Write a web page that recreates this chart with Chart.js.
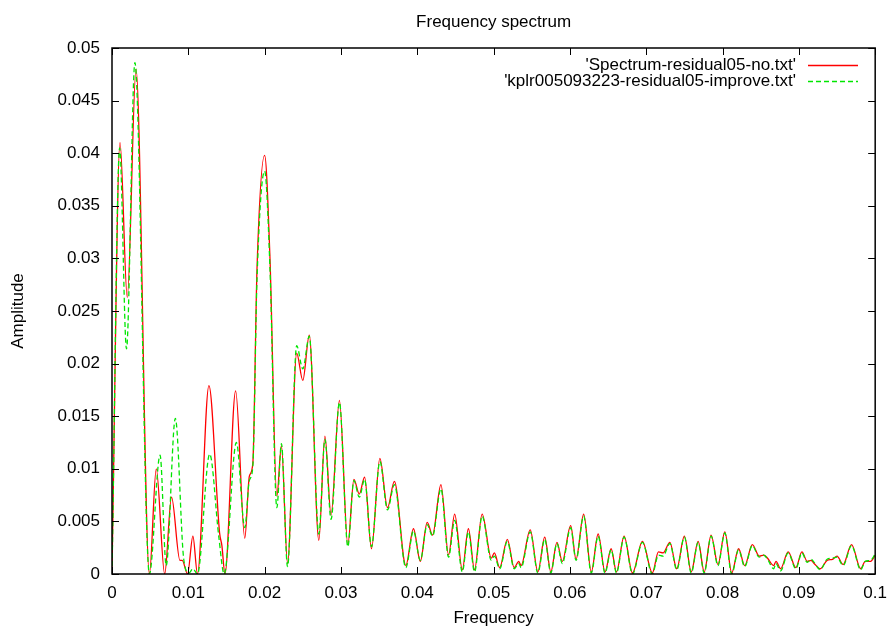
<!DOCTYPE html>
<html>
<head>
<meta charset="utf-8">
<title>Frequency spectrum</title>
<script src="https://cdn.jsdelivr.net/npm/chart.js@4.4.0/dist/chart.umd.min.js"></script>
<style>
  html, body { margin: 0; padding: 0; background: #fff; }
  #spectrum { display: block; }
</style>
</head>
<body>
<canvas id="spectrum" width="896" height="630"></canvas>
<script>
// 'Spectrum-residual05-no.txt' (extrema and shoulders of the curve)
const noFreq = [
    0.0000, 0.00105, 0.0020, 0.00315, 0.0049, 0.0058, 0.0069, 0.0078, 0.0089, 0.0092,
    0.0099, 0.0106, 0.0112, 0.0127, 0.0141, 0.0144, 0.0148, 0.0162, 0.0174, 0.0180,
    0.01845, 0.0190, 0.0200, 0.0207, 0.0216, 0.0222, 0.0230, 0.0242, 0.0250, 0.02585,
    0.0271, 0.0279, 0.0287, 0.0298, 0.0309, 0.0317, 0.0324, 0.0331, 0.0340, 0.0351,
    0.0361, 0.0370, 0.0385, 0.0395, 0.0404, 0.0413, 0.0420, 0.0431, 0.0441, 0.0449,
    0.0459, 0.0467, 0.0475, 0.0485, 0.0497, 0.0501, 0.0508, 0.0518, 0.0527, 0.0533,
    0.0536, 0.0548, 0.0558, 0.0567, 0.0575, 0.0583, 0.0590, 0.0601, 0.0608, 0.0618,
    0.0628, 0.0637, 0.0646, 0.0654, 0.0661, 0.0671, 0.0682, 0.0695, 0.0708, 0.0716,
    0.0722, 0.0731, 0.0740, 0.0750, 0.0759, 0.0768, 0.0776, 0.0785, 0.0794, 0.0803,
    0.0812, 0.0821, 0.0829, 0.0839, 0.0848, 0.0854, 0.0859, 0.0867, 0.0870, 0.0876,
    0.0886, 0.0896, 0.0904, 0.0911, 0.0916, 0.0920, 0.0928, 0.0937, 0.0944, 0.0950,
    0.0958, 0.0969, 0.0981, 0.0987, 0.0994, 0.1000
];
const noAmp = [
    0.0005, 0.0410, 0.0263, 0.0480, 0.0000, 0.0100, 0.0000, 0.0073, 0.0013, 0.0013,
    0.0000, 0.0036, 0.0000, 0.0179, 0.0039, 0.0027, 0.0000, 0.0174, 0.0034, 0.0093,
    0.0105, 0.0290, 0.0398, 0.0300, 0.0074, 0.0122, 0.0010, 0.0210, 0.0184, 0.0227,
    0.0032, 0.0131, 0.0056, 0.0165, 0.0028, 0.0090, 0.0076, 0.0092, 0.0024, 0.0110,
    0.0063, 0.0088, 0.0008, 0.0043, 0.0012, 0.0049, 0.0037, 0.0085, 0.0018, 0.0057,
    0.0004, 0.0043, 0.0004, 0.0057, 0.0015, 0.0020, 0.0006, 0.0033, 0.0006, 0.0012,
    0.0008, 0.0042, 0.0002, 0.0035, 0.0002, 0.0030, 0.0012, 0.0046, 0.0014, 0.0057,
    0.0002, 0.0038, 0.0002, 0.0024, 0.0002, 0.0036, 0.0001, 0.0031, 0.0001, 0.0021,
    0.0020, 0.0030, 0.0005, 0.0036, 0.0002, 0.0031, 0.0002, 0.0037, 0.0009, 0.0040,
    0.0001, 0.0024, 0.0008, 0.0028, 0.0017, 0.0018, 0.0015, 0.0008, 0.0012, 0.0005,
    0.0021, 0.0006, 0.0021, 0.0012, 0.0013, 0.0010, 0.0005, 0.0013, 0.0014, 0.0017,
    0.0009, 0.0028, 0.0005, 0.0012, 0.0012, 0.0018
];

// 'kplr005093223-residual05-improve.txt'
const improveFreq = [
    0.0000, 0.0010, 0.0019, 0.0030, 0.0049, 0.0063, 0.0071, 0.0083, 0.0094, 0.0101,
    0.0106, 0.0112, 0.0128, 0.0140, 0.0147, 0.0163, 0.0174, 0.0180, 0.01845, 0.0190,
    0.0200, 0.0207, 0.0216, 0.0222, 0.0230, 0.0242, 0.0250, 0.02585, 0.0271, 0.0279,
    0.0287, 0.0298, 0.0309, 0.0317, 0.0324, 0.0331, 0.0340, 0.0351, 0.0361, 0.0370,
    0.0385, 0.0395, 0.0404, 0.0413, 0.0420, 0.0431, 0.0441, 0.0449, 0.0459, 0.0467,
    0.0475, 0.0485, 0.0497, 0.0501, 0.0508, 0.0518, 0.0527, 0.0533, 0.0536, 0.0548,
    0.0558, 0.0567, 0.0575, 0.0583, 0.0590, 0.0601, 0.0608, 0.0618, 0.0628, 0.0637,
    0.0646, 0.0654, 0.0661, 0.0671, 0.0682, 0.0695, 0.0708, 0.0716, 0.0722, 0.0731,
    0.0740, 0.0750, 0.0759, 0.0768, 0.0776, 0.0785, 0.0794, 0.0803, 0.0812, 0.0821,
    0.0829, 0.0839, 0.0848, 0.0854, 0.0859, 0.0867, 0.0870, 0.0876, 0.0886, 0.0896,
    0.0904, 0.0911, 0.0916, 0.0920, 0.0928, 0.0937, 0.0944, 0.0950, 0.0958, 0.0969,
    0.0981, 0.0987, 0.0994, 0.1000
];
const improveAmp = [
    0.0000, 0.0405, 0.0214, 0.0486, 0.0000, 0.0113, 0.0008, 0.0148, 0.0014, 0.0001,
    0.0005, 0.0000, 0.0114, 0.0035, 0.0000, 0.0125, 0.0044, 0.0089, 0.0102, 0.0280,
    0.0383, 0.0290, 0.0063, 0.0124, 0.0007, 0.0217, 0.0195, 0.0226, 0.0038, 0.0128,
    0.0052, 0.0163, 0.0026, 0.0089, 0.0073, 0.0090, 0.0026, 0.0107, 0.0061, 0.0085,
    0.0006, 0.0041, 0.0013, 0.0047, 0.0036, 0.0081, 0.0016, 0.0051, 0.0002, 0.0040,
    0.0002, 0.0055, 0.0013, 0.0017, 0.0005, 0.0031, 0.0005, 0.0010, 0.0006, 0.0040,
    0.0001, 0.0033, 0.0001, 0.0029, 0.0010, 0.0044, 0.0013, 0.0055, 0.0001, 0.0036,
    0.0001, 0.0023, 0.0001, 0.0035, 0.0000, 0.0030, 0.0000, 0.0018, 0.0017, 0.0029,
    0.0004, 0.0035, 0.0001, 0.0030, 0.0001, 0.0036, 0.0008, 0.0039, 0.0000, 0.0023,
    0.0007, 0.0027, 0.0016, 0.0018, 0.0014, 0.0005, 0.0010, 0.0003, 0.0020, 0.0005,
    0.0020, 0.0011, 0.0014, 0.0011, 0.0004, 0.0014, 0.0015, 0.0016, 0.0008, 0.0027,
    0.0004, 0.0012, 0.0013, 0.0019
];

const seriesLabels = ["'Spectrum-residual05-no.txt'", "'kplr005093223-residual05-improve.txt'"];
const xTickLabels = ['0', '0.01', '0.02', '0.03', '0.04', '0.05', '0.06', '0.07', '0.08', '0.09', '0.1'];
const yTickLabels = ['0', '0.005', '0.01', '0.015', '0.02', '0.025', '0.03', '0.035', '0.04', '0.045', '0.05'];

const FONT = '"Liberation Sans", Arial, Helvetica, sans-serif';
const RED = '#ff0000';
const GREEN = '#00e600';
const DASH = [5, 3];

Chart.defaults.font.family = FONT;
Chart.defaults.font.size = 17;
Chart.defaults.color = '#000';

function toPoints(freq, amp) {
    return freq.map((f, i) => ({x: f, y: amp[i]}));
}

// key rows: label, colour, dash
const keyRows = [
    {text: seriesLabels[0], color: RED, dash: []},
    {text: seriesLabels[1], color: GREEN, dash: DASH}
];

// gnuplot look: box border, inward ticks on all four sides, title and key
const gnuFrame = {
    id: 'gnuFrame',
    afterDraw(chart) {
        const ctx = chart.ctx;
        const area = chart.chartArea;
        const xs = chart.scales.x;
        const ys = chart.scales.y;
        const tick = 7;

        ctx.save();
        ctx.strokeStyle = '#000';
        ctx.lineWidth = 1.5;
        ctx.strokeRect(area.left, area.top, area.right - area.left, area.bottom - area.top);

        ctx.lineWidth = 1;
        ctx.beginPath();
        xs.ticks.forEach(t => {
            let px = Math.round(xs.getPixelForValue(t.value)) + 0.5;
            ctx.moveTo(px, area.bottom);
            ctx.lineTo(px, area.bottom - tick);
            ctx.moveTo(px, area.top);
            ctx.lineTo(px, area.top + tick);
        });
        ys.ticks.forEach(t => {
            let py = Math.round(ys.getPixelForValue(t.value)) + 0.5;
            ctx.moveTo(area.left, py);
            ctx.lineTo(area.left + tick, py);
            ctx.moveTo(area.right, py);
            ctx.lineTo(area.right - tick, py);
        });
        ctx.stroke();

        // title
        ctx.fillStyle = '#000';
        ctx.font = '17px ' + FONT;
        ctx.textAlign = 'center';
        ctx.textBaseline = 'middle';
        ctx.fillText('Frequency spectrum', (area.left + area.right) / 2, 22);

        // key, top right inside the box
        ctx.textAlign = 'right';
        keyRows.forEach((row, i) => {
            let y = 65 + i * 16;
            ctx.fillStyle = '#000';
            ctx.fillText(row.text, 796, y);
            ctx.strokeStyle = row.color;
            ctx.lineWidth = 1.3;
            ctx.setLineDash(row.dash);
            ctx.beginPath();
            ctx.moveTo(808, y + 0.5);
            ctx.lineTo(858, y + 0.5);
            ctx.stroke();
        });
        ctx.setLineDash([]);
        ctx.restore();
    }
};

new Chart(document.getElementById('spectrum'), {
    type: 'line',
    data: {
        datasets: [
            {
                label: seriesLabels[1],
                data: toPoints(improveFreq, improveAmp),
                borderColor: GREEN,
                borderWidth: 1.3,
                borderDash: DASH,
                order: 0
            },
            {
                label: seriesLabels[0],
                data: toPoints(noFreq, noAmp),
                borderColor: RED,
                borderWidth: 1.3,
                order: 1
            }
        ]
    },
    options: {
        responsive: false,
        animation: false,
        layout: {padding: {top: 48, right: 18, left: 0, bottom: 0}},
        elements: {
            point: {radius: 0},
            line: {cubicInterpolationMode: 'monotone', fill: false}
        },
        plugins: {
            legend: {display: false},
            title: {display: false},
            tooltip: {enabled: false}
        },
        scales: {
            x: {
                type: 'linear',
                min: 0,
                max: 0.1,
                grid: {display: false, drawTicks: false},
                border: {display: false},
                ticks: {
                    stepSize: 0.01,
                    padding: 9,
                    maxRotation: 0,
                    autoSkip: false,
                    callback: (v, i) => xTickLabels[i]
                },
                title: {display: true, text: 'Frequency', padding: {top: 0, bottom: 1}},
                afterFit(scale) { scale.height = 56; }
            },
            y: {
                min: 0,
                max: 0.05,
                grid: {display: false, drawTicks: false},
                border: {display: false},
                ticks: {
                    stepSize: 0.005,
                    padding: 12,
                    autoSkip: false,
                    callback: (v, i) => yTickLabels[i]
                },
                title: {display: true, text: 'Amplitude', padding: {top: 8, bottom: 0}},
                afterFit(scale) { scale.width = 112; }
            }
        }
    },
    plugins: [gnuFrame]
});
</script>
</body>
</html>
